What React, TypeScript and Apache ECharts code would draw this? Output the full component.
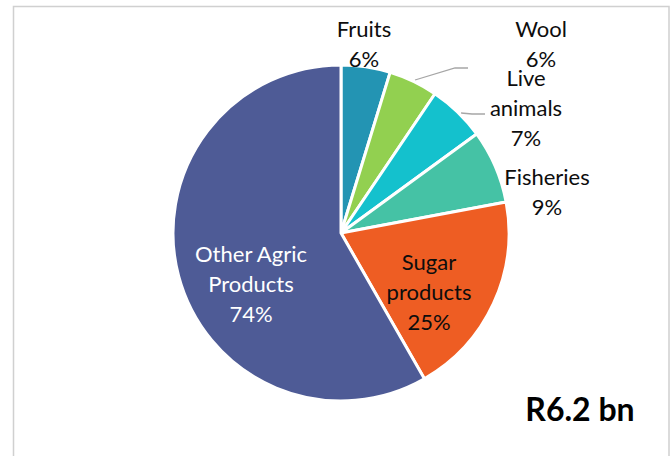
import React, { useEffect, useRef } from "react";
import * as echarts from "echarts";

const categories = ["Fruits", "Wool", "Live animals", "Fisheries", "Sugar products", "Other Agric Products"];
const labelNames = ["Fruits", "Wool", "Live\nanimals", "Fisheries", "Sugar\nproducts", "Other Agric\nProducts"];
const values = [6, 6, 7, 9, 25, 74];
const colors = ["#2394B3", "#92D050", "#14C1CD", "#45C2A5", "#EE5D23", "#4E5B96"];
const totalLabel = "R6.2 bn";

const labelPos: Record<number, { x: number; y: number; line?: number[][] }> = {
  0: { x: 364, y: 43 },
  1: { x: 541, y: 43, line: [[415, 80], [455, 68], [468, 68]] },
  2: { x: 526, y: 107, line: [[461, 113], [472, 114], [485, 114]] },
  3: { x: 547, y: 191 },
  4: { x: 429, y: 291 },
  5: { x: 251, y: 283 },
};

export default function App() {
  const ref = useRef<HTMLDivElement>(null);
  useEffect(() => {
    if (!ref.current) return;
    const chart = echarts.init(ref.current, null, { renderer: "svg" });
    const font = 'Lato, "Open Sans", sans-serif';
    const data = categories.map((name, i) => {
      const inside = i >= 4;
      return {
        name,
        value: values[i],
        itemStyle: { color: colors[i] },
        label: {
          position: inside ? "inside" : "outside",
          color: i === 5 ? "#ffffff" : "#0d0d0d",
        },
        labelLine: { show: !!labelPos[i].line },
      };
    });
    chart.setOption({
      animation: false,
      backgroundColor: "#ffffff",
      graphic: [
        {
          type: "rect",
          shape: { x: 13.5, y: 6.5, width: 655.5, height: 470 },
          style: { fill: "none", stroke: "#d0d0d0", lineWidth: 1.5 },
          silent: true,
        },
        {
          type: "text",
          x: 580,
          y: 408,
          style: {
            text: totalLabel,
            fill: "#000000",
            font: `bold 32px ${font}`,
            align: "center",
            verticalAlign: "middle",
          },
        },
      ],
      series: [
        {
          type: "pie",
          center: [341, 233],
          radius: 168,
          startAngle: 90,
          clockwise: true,
          avoidLabelOverlap: false,
          itemStyle: { borderColor: "#ffffff", borderWidth: 3 },
          label: {
            show: true,
            fontFamily: font,
            fontSize: 22,
            lineHeight: 30,
            align: "center",
            formatter: (p: any) => `${labelNames[p.dataIndex]}\n${p.value}%`,
          },
          labelLine: {
            lineStyle: { color: "#a6a6a6", width: 1.3 },
          },
          labelLayout: (p: any) => {
            const lp = labelPos[p.dataIndex];
            const out: any = { x: lp.x, y: lp.y, align: "center", verticalAlign: "middle" };
            if (lp.line) out.labelLinePoints = lp.line;
            return out;
          },
          data,
        },
      ],
    });
    return () => chart.dispose();
  }, []);
  return (
    <div
      ref={ref}
      style={{ position: "fixed", left: 0, top: 0, width: 672, height: 456 }}
    />
  );
}
